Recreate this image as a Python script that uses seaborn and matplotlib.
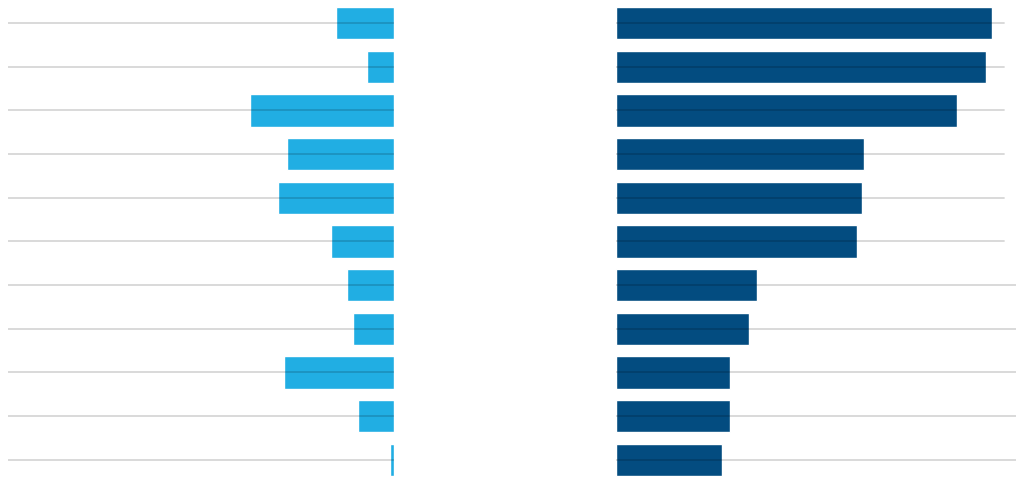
import matplotlib
matplotlib.use("Agg")
import matplotlib.pyplot as plt
import seaborn as sns
import pandas as pd

categories = [f"Item {i}" for i in range(1, 12)]
left_values = [15.0, 6.9, 37.4, 27.8, 30.1, 16.2, 12.3, 10.7, 28.5, 9.3, 1.1]
right_values = [97.3, 95.8, 88.4, 64.3, 63.6, 62.5, 36.6, 34.5, 29.6, 29.5, 27.5]

LIGHT = "#21aee3"
DARK = "#034c80"
GRID = (0, 0, 0, 0.16)

df = pd.DataFrame({"category": categories, "left": left_values, "right": right_values})

sns.set_style("white")
W, H = 1024, 485
fig = plt.figure(figsize=(W / 100, H / 100), dpi=100)

row_top = 2.2
row_bottom = 482.6
bottom = 1 - row_bottom / H
height = (row_bottom - row_top) / H

axL = fig.add_axes([8 / W, bottom, 386 / W, height])
axR = fig.add_axes([616 / W, bottom, 400 / W, height])

sns.barplot(data=df, y="category", x="left", orient="h", color=LIGHT,
            width=0.74, saturation=1, ax=axL)
sns.barplot(data=df, y="category", x="right", orient="h", color=DARK,
            width=0.74, saturation=1, ax=axR)

axL.set_xlim(100, 0)
axR.set_xlim(0, 103.6)

for ax in (axL, axR):
    ax.set_ylim(len(categories) - 0.5, -0.5)
    ax.set_xlabel("")
    ax.set_ylabel("")
    ax.set_xticks([])
    ax.set_yticks([])
    for s in ax.spines.values():
        s.set_visible(False)
    ax.patch.set_alpha(0)

for i in range(len(categories)):
    axL.axhline(i, xmin=0, xmax=1, color=GRID, lw=1.3, zorder=5)
    xmax = 388 / 400 if i < 6 else 1.0
    axR.axhline(i, xmin=0, xmax=xmax, color=GRID, lw=1.3, zorder=5)

fig.savefig("out.png", dpi=100)
